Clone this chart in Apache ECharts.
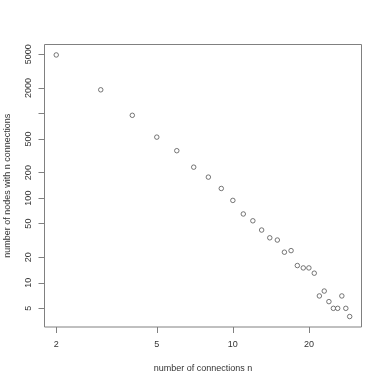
<!DOCTYPE html>
<html><head><meta charset="utf-8">
<script src="https://cdn.jsdelivr.net/npm/echarts@6/dist/echarts.min.js"></script>
<style>html,body{margin:0;padding:0;background:#fff}#c{width:385px;height:384px}</style>
</head><body><div id="c"></div>
<script>
const connections = [2,3,4,5,6,7,8,9,10,11,12,13,14,15,16,17,18,19,20,21,22,23,24,25,26,27,28,29];
const nodeCounts = [4900,1900,950,525,363,232,177,130,94,65,54,42,34,32,23,24,16,15,15,13,7,8,6,5,5,7,5,4];
const xTicks = [2,5,10,20];
const yTicks = [5,10,20,50,100,200,500,1000,2000,5000];
const yLabels = [5,10,20,50,100,200,500,2000,5000];

const chart = echarts.init(document.getElementById('c'), null, {renderer:'canvas'});
const font = 'Liberation Sans, Arial, sans-serif';
const grey = '#808080';
const fmt = v => String(Math.round(v));
chart.setOption({
  animation:false,
  backgroundColor:'#fff',
  grid:{left:44.5, right:23.5, top:44.5, bottom:57, show:true, borderColor:grey, borderWidth:1, backgroundColor:'transparent', containLabel:false, outerBoundsMode:'none'},
  xAxis:{
    type:'log', min:1.797, max:32.3,
    name:'number of connections n', nameLocation:'middle', nameGap:37,
    nameTextStyle:{fontFamily:font, fontSize:9, color:'#333'},
    axisLine:{show:false},
    splitLine:{show:false},
    axisTick:{show:true, inside:false, length:6, lineStyle:{color:grey}, customValues:xTicks},
    axisLabel:{fontFamily:font, fontSize:9, color:'#333', margin:13, customValues:xTicks, formatter:fmt}
  },
  yAxis:{
    type:'log', min:3.01, max:6510,
    name:'number of nodes with n connections', nameLocation:'middle', nameGap:32,
    nameTextStyle:{fontFamily:font, fontSize:9, color:'#333'},
    axisLine:{show:false},
    splitLine:{show:false},
    axisTick:{show:true, inside:false, length:6, lineStyle:{color:grey}, customValues:yTicks},
    axisLabel:{fontFamily:font, fontSize:9, color:'#333', margin:11, rotate:90, customValues:yLabels, formatter:fmt}
  },
  series:[{
    type:'scatter',
    data:connections.map((n,i)=>[n,nodeCounts[i]]),
    symbol:'circle', symbolSize:4.5,
    itemStyle:{color:'#fff', borderColor:'#555', borderWidth:1}
  }]
});
</script></body></html>
